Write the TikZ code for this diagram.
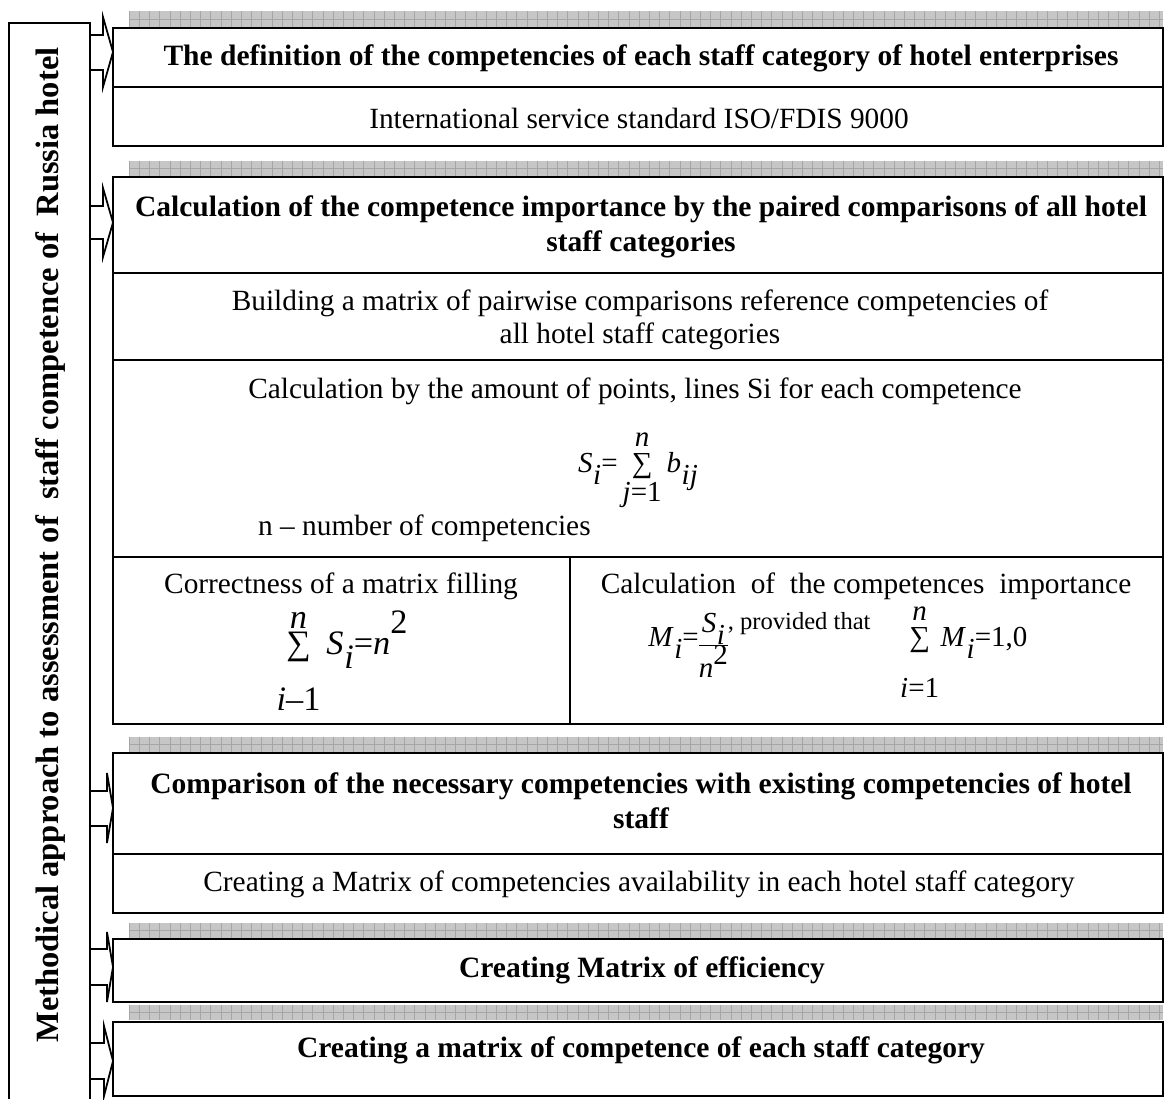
\documentclass[tikz,border=0pt]{standalone}
\usepackage{fontspec}
\setmainfont{Liberation Serif}
\newcommand{\ssub}[2]{\textit{#1}\kern0.02em\raisebox{-0.9ex}{\textit{#2}}}
\newcommand{\sumlim}[4]{\mathop{\mbox{∑}}\limits^{\mbox{\rule[-#3]{0pt}{0pt}\textit{#2}}}_{\mbox{\rule{0pt}{#4}#1}}}
\tikzset{
  frame/.style={line width=1pt},
  strip/.style={fill=gray!45,draw=none},
  hdr/.style={font=\fontsize{16.8}{20}\selectfont\bfseries,align=center},
  txt/.style={font=\fontsize{16.7}{19}\selectfont,align=center},
  frm/.style={font=\fontsize{16.5}{19}\selectfont,inner sep=0pt}
}
\begin{document}
\begin{tikzpicture}[x=0.02cm,y=-0.02cm]
\useasboundingbox (0,0) rectangle (1166,1099);
% hatched strips above each block
\foreach \ya/\yb in {11/27,161/176,737/752,923/938,1005/1020}{
  \fill[strip] (129,\ya) rectangle (1163,\yb);
  \foreach \xx in {129,139.2,...,1163}
    \draw[gray!70,line width=0.3pt] (\xx,\ya) -- (\xx,\yb);
  \draw[gray!70,line width=0.3pt] (129,{(\ya+\yb)/2}) -- (1163,{(\ya+\yb)/2});
}
% left box
\draw[frame] (9,1099) -- (9,23) -- (90,23) -- (90,1099);
\node[hdr,font=\fontsize{18.5}{22}\selectfont\bfseries,rotate=90] (side) at (51,545) {Methodical approach to assessment of \ staff competence of \ Russia hotel};
% blocks
\draw[frame] (113,28) rectangle (1163,146);
\draw[frame] (113,87) -- (1163,87);
\draw[frame] (113,177) rectangle (1163,724);
\draw[frame] (113,273) -- (1163,273);
\draw[frame] (113,360) -- (1163,360);
\draw[frame] (113,557) -- (1163,557);
\draw[frame] (570,557) -- (570,724);
\draw[frame] (113,753) rectangle (1163,913);
\draw[frame] (113,854) -- (1163,854);
\draw[frame] (113,939) rectangle (1163,1002);
\draw[frame] (113,1022) rectangle (1163,1096);
% block arrows from the left box
\foreach \st/\sb/\ht/\hb/\bx in {35/70/17/87/103,206/239/188/257/103,791/826/773/843/107,949/985/932/1002/107,1043/1079/1026/1096/104}
  \draw[frame] (90,\st) -- (\bx,\st) -- (\bx,\ht) -- (113,{(\ht+\hb)/2}) -- (\bx,\hb) -- (\bx,\sb) -- (90,\sb);
% texts
\node[hdr] (h1) at (641,58) {The definition of the competencies of each staff category of hotel enterprises};
\node[txt] (s1) at (639,118) {International service standard ISO/FDIS 9000};
\node[hdr] (h2) at (641,227) {Calculation of the competence importance by the paired comparisons of all hotel\\staff categories};
\node[txt] (s2) at (640,320) {Building a matrix of pairwise comparisons reference competencies of\\all hotel staff categories};
\node[txt] (s3) at (635,391) {Calculation by the amount of points, lines Si for each competence};
\node[frm] (f1) at (638,470) {$\mbox{\ssub{S}{i}=}\sumlim{\textit{j}=1}{n}{3pt}{11pt}\mbox{\ssub{b}{ij}}$};
\node[txt,anchor=west] (s4) at (252,528) {n – number of competencies};
\node[txt] (s5) at (341,586) {Correctness of a matrix filling};
\node[frm,font=\fontsize{19.5}{22}\selectfont] (f2) at (342,661) {$\sumlim{\textit{i}–1}{n}{0pt}{26pt}\mbox{\ssub{S}{i}=\textit{n}\raisebox{1.3ex}{2}}$};
\node[txt] (s6) at (866,586) {Calculation \ of \ the competences \ importance};
\node[frm,anchor=west] (f3) at (648,652) {$\mbox{\ssub{M}{i}=}\raisebox{-6pt}{\renewcommand{\arraystretch}{0.9}\begin{tabular}[c]{@{}c@{}}\ssub{S}{i}\\\hline\textit{n}\raisebox{1ex}{2}\end{tabular}}\mbox{\raisebox{1.3ex}{\fontsize{14}{16}\selectfont, provided that}\hspace{14pt}}\sumlim{\textit{i}=1}{n}{3pt}{24pt}\mbox{\kern-2pt\ssub{M}{i}=1,0}$};
\node[hdr] (h3) at (641,801) {Comparison of the necessary competencies with existing competencies of hotel\\staff};
\node[txt] (s7) at (639,884) {Creating a Matrix of competencies availability in each hotel staff category};
\node[hdr] (h4) at (642,970) {Creating Matrix of efficiency};
\node[hdr] (h5) at (641,1050) {Creating a matrix of competence of each staff category};
\end{tikzpicture}
\end{document}
